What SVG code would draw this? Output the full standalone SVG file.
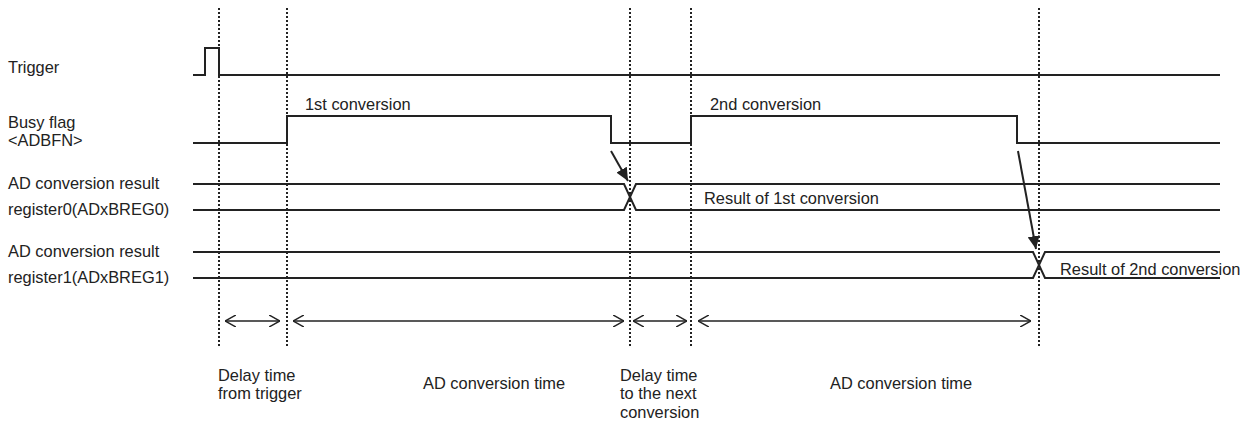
<svg xmlns="http://www.w3.org/2000/svg" width="1250" height="426" viewBox="0 0 1250 426">
<style>
text{font-family:"Liberation Sans",Arial,sans-serif;font-size:16.4px;fill:#222}
.sig{fill:none;stroke:#222;stroke-width:2}
.dot{stroke:#222;stroke-width:2;stroke-dasharray:2 2}
.dim{fill:none;stroke:#222;stroke-width:1.3}
.arr{fill:none;stroke:#222;stroke-width:2}
</style>
<defs>
<marker id="open" viewBox="0 0 10 10" refX="10" refY="5" markerWidth="11" markerHeight="12" markerUnits="userSpaceOnUse" orient="auto-start-reverse" preserveAspectRatio="none">
<path d="M0,0 L10,5 L0,10" fill="none" stroke="#222" stroke-width="1.3"/>
</marker>
<marker id="solid" viewBox="0 0 10 10" refX="10" refY="5" markerWidth="13" markerHeight="12" markerUnits="userSpaceOnUse" orient="auto" preserveAspectRatio="none">
<path d="M0,0 L10,5 L0,10 z" fill="#222"/>
</marker>
</defs>
<g id="labels">
<text x="8" y="73">Trigger</text>
<text x="8" y="128">Busy flag</text>
<text x="8" y="146">&lt;ADBFN&gt;</text>
<text x="8" y="189">AD conversion result</text>
<text x="8" y="215">register0(ADxBREG0)</text>
<text x="8" y="257">AD conversion result</text>
<text x="8" y="283">register1(ADxBREG1)</text>
</g>
<g id="guides">
<line class="dot" x1="219" y1="8" x2="219" y2="346"/>
<line class="dot" x1="287" y1="8" x2="287" y2="346"/>
<line class="dot" x1="630" y1="8" x2="630" y2="346"/>
<line class="dot" x1="691" y1="8" x2="691" y2="346"/>
<line class="dot" x1="1039" y1="8" x2="1039" y2="346"/>
</g>
<g id="trigger">
<polyline class="sig" points="193,75 205,75 205,48 219,48 219,75 1220,75"/>
</g>
<g id="busy">
<polyline class="sig" points="193,143 287,143 287,116 611,116 611,143 691,143 691,116 1017,116 1017,143 1220,143"/>
<text x="305" y="110">1st conversion</text>
<text x="710" y="110">2nd conversion</text>
</g>
<g id="reg0">
<polyline class="sig" points="193,184 624,184 636,210 1220,210"/>
<polyline class="sig" points="193,210 624,210 636,184 1220,184"/>
<text x="704" y="204">Result of 1st conversion</text>
</g>
<g id="reg1">
<polyline class="sig" points="193,252 1033,252 1045,278 1220,278"/>
<polyline class="sig" points="193,278 1033,278 1045,252 1220,252"/>
<text x="1060" y="275">Result of 2nd conversion</text>
</g>
<g id="connectors">
<line class="arr" x1="611" y1="151" x2="628" y2="181" marker-end="url(#solid)"/>
<line class="arr" x1="1018" y1="151" x2="1036" y2="249" marker-end="url(#solid)"/>
<line class="dim" x1="225" y1="321" x2="280" y2="321" marker-start="url(#open)" marker-end="url(#open)"/>
<line class="dim" x1="293" y1="321" x2="624" y2="321" marker-start="url(#open)" marker-end="url(#open)"/>
<line class="dim" x1="633" y1="321" x2="687" y2="321" marker-start="url(#open)" marker-end="url(#open)"/>
<line class="dim" x1="698" y1="321" x2="1031" y2="321" marker-start="url(#open)" marker-end="url(#open)"/>
</g>
<g id="dimlabels">
<text x="218" y="381">Delay time</text>
<text x="218" y="399">from trigger</text>
<text x="423" y="389">AD conversion time</text>
<text x="620" y="381">Delay time</text>
<text x="620" y="399">to the next</text>
<text x="620" y="418">conversion</text>
<text x="830" y="389">AD conversion time</text>
</g>
</svg>
